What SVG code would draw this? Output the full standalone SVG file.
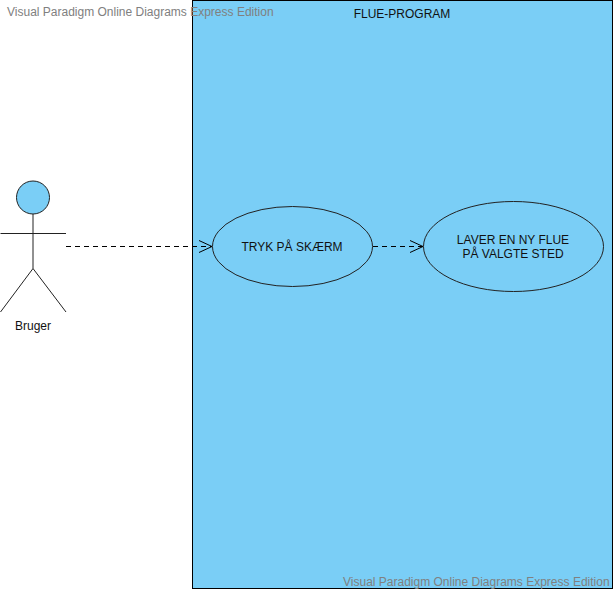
<svg xmlns="http://www.w3.org/2000/svg" width="615" height="591" viewBox="0 0 615 591">
<style>
text{font-family:"Liberation Sans",Arial,sans-serif;font-size:12px;fill:#111;text-anchor:middle}
.wm{font-size:12px;fill:#808080;text-anchor:start}
.sh{fill:#7acef6;stroke:#222;stroke-width:1}
.ln{fill:none;stroke:#222;stroke-width:1}
.dash{fill:none;stroke:#000;stroke-width:1;stroke-dasharray:5 4}
.head{fill:none;stroke:#000;stroke-width:1}
</style>
<rect width="615" height="591" fill="#fff"/>
<g id="system">
<rect x="192.500" y="0.500" width="420" height="588" fill="#7acef6" stroke="#000"/>
<text x="402" y="18">FLUE-PROGRAM</text>
</g>
<g id="actor-bruger">
<circle class="sh" cx="33" cy="197.500" r="16.500"/>
<path class="ln" d="M33 214V268.500M0.500 233.500H66M33 268.500L0.500 312M33 268.500L66 312"/>
<text x="33" y="330">Bruger</text>
</g>
<g id="usecase-tryk">
<ellipse class="sh" cx="292.500" cy="246.500" rx="80" ry="40"/>
<text x="292" y="251">TRYK PÅ SKÆRM</text>
</g>
<g id="usecase-laver">
<ellipse class="sh" cx="513.500" cy="246.500" rx="90" ry="45"/>
<text x="513" y="244">LAVER EN NY FLUE</text>
<text x="513" y="258">PÅ VALGTE STED</text>
</g>
<g id="connectors">
<path class="dash" d="M66 246.500H212"/>
<path class="head" d="M199 240.500L212 246.500L199 252.500"/>
<path class="dash" d="M373 246.500H423"/>
<path class="head" d="M410 240.500L423 246.500L410 252.500"/>
</g>
<text class="wm" x="7" y="16">Visual Paradigm Online Diagrams Express Edition</text>
<text class="wm" x="343" y="586">Visual Paradigm Online Diagrams Express Edition</text>
</svg>
